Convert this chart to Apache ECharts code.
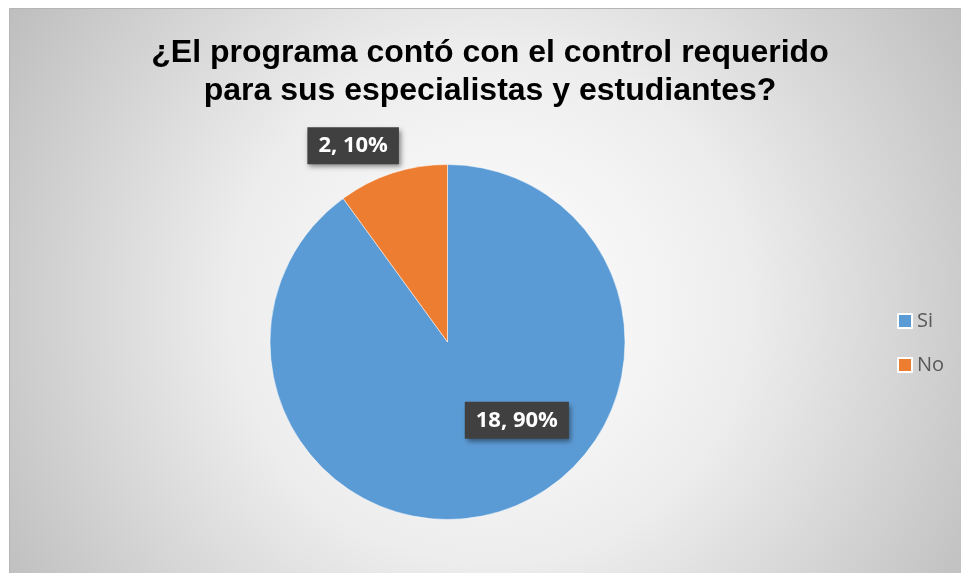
<!DOCTYPE html>
<html>
<head>
<meta charset="utf-8">
<script src="https://cdn.jsdelivr.net/npm/echarts@6/dist/echarts.min.js"></script>
<style>
html,body{margin:0;padding:0;background:#fff;}
#c{width:961px;height:573px;}
</style>
</head>
<body>
<div id="c"></div>
<script>
var categories = ['Si', 'No'];
var values = [18, 2];
var colors = ['#5B9BD5', '#ED7D31'];
var titleText = '¿El programa contó con el control requerido\npara sus especialistas y estudiantes?';

var chart = echarts.init(document.getElementById('c'));
var total = values.reduce(function (a, b) { return a + b; }, 0);
var labelOffsets = [[41, -9], [-66, -109]];

var data = categories.map(function (name, i) {
  return {
    name: name,
    value: values[i],
    itemStyle: { color: colors[i] },
    label: { offset: labelOffsets[i] }
  };
});

chart.setOption({
  backgroundColor: '#ffffff',
  animation: false,
  graphic: [{
    type: 'rect',
    z: -10,
    shape: { x: 9.5, y: 8.5, width: 960, height: 570 },
    style: {
      fill: {
        type: 'radial', x: 0.5, y: 0.52, r: 1.0,
        colorStops: [
          { offset: 0, color: '#ffffff' },
          { offset: 0.45, color: '#ededed' },
          { offset: 1, color: '#bdbdbd' }
        ]
      },
      stroke: '#b5b5b5', lineWidth: 1
    }
  }],
  title: {
    text: titleText,
    left: 485,
    textAlign: 'center',
    top: 29,
    textStyle: {
      fontFamily: 'Liberation Sans, Arial, sans-serif',
      fontWeight: 'bold',
      fontSize: 32,
      lineHeight: 38,
      color: '#000000'
    }
  },
  legend: {
    orient: 'vertical',
    left: 892,
    top: 306,
    itemWidth: 14,
    itemHeight: 14,
    itemGap: 24,
    icon: 'rect',
    textStyle: {
      fontFamily: 'Open Sans, Noto Sans, sans-serif',
      fontSize: 20,
      color: '#595959'
    },
    data: categories
  },
  series: [{
    type: 'pie',
    center: [447.5, 342],
    radius: [0, 177.5],
    startAngle: 90,
    clockwise: true,
    itemStyle: { borderColor: '#ffffff', borderWidth: 0.5 },
    label: {
      show: true,
      position: 'inside',
      formatter: function (p) {
        return p.value + ', ' + Math.round(p.value / total * 100) + '%';
      },
      fontFamily: 'Open Sans, Noto Sans, sans-serif',
      fontWeight: 'bold',
      fontSize: 22,
      color: '#ffffff',
      backgroundColor: '#404040',
      padding: [9, 11, 6, 11],
      shadowColor: 'rgba(0,0,0,0.45)',
      shadowBlur: 5,
      shadowOffsetX: 2,
      shadowOffsetY: 3
    },
    labelLine: { show: false },
    emphasis: { disabled: true },
    data: data
  }]
});
</script>
</body>
</html>
